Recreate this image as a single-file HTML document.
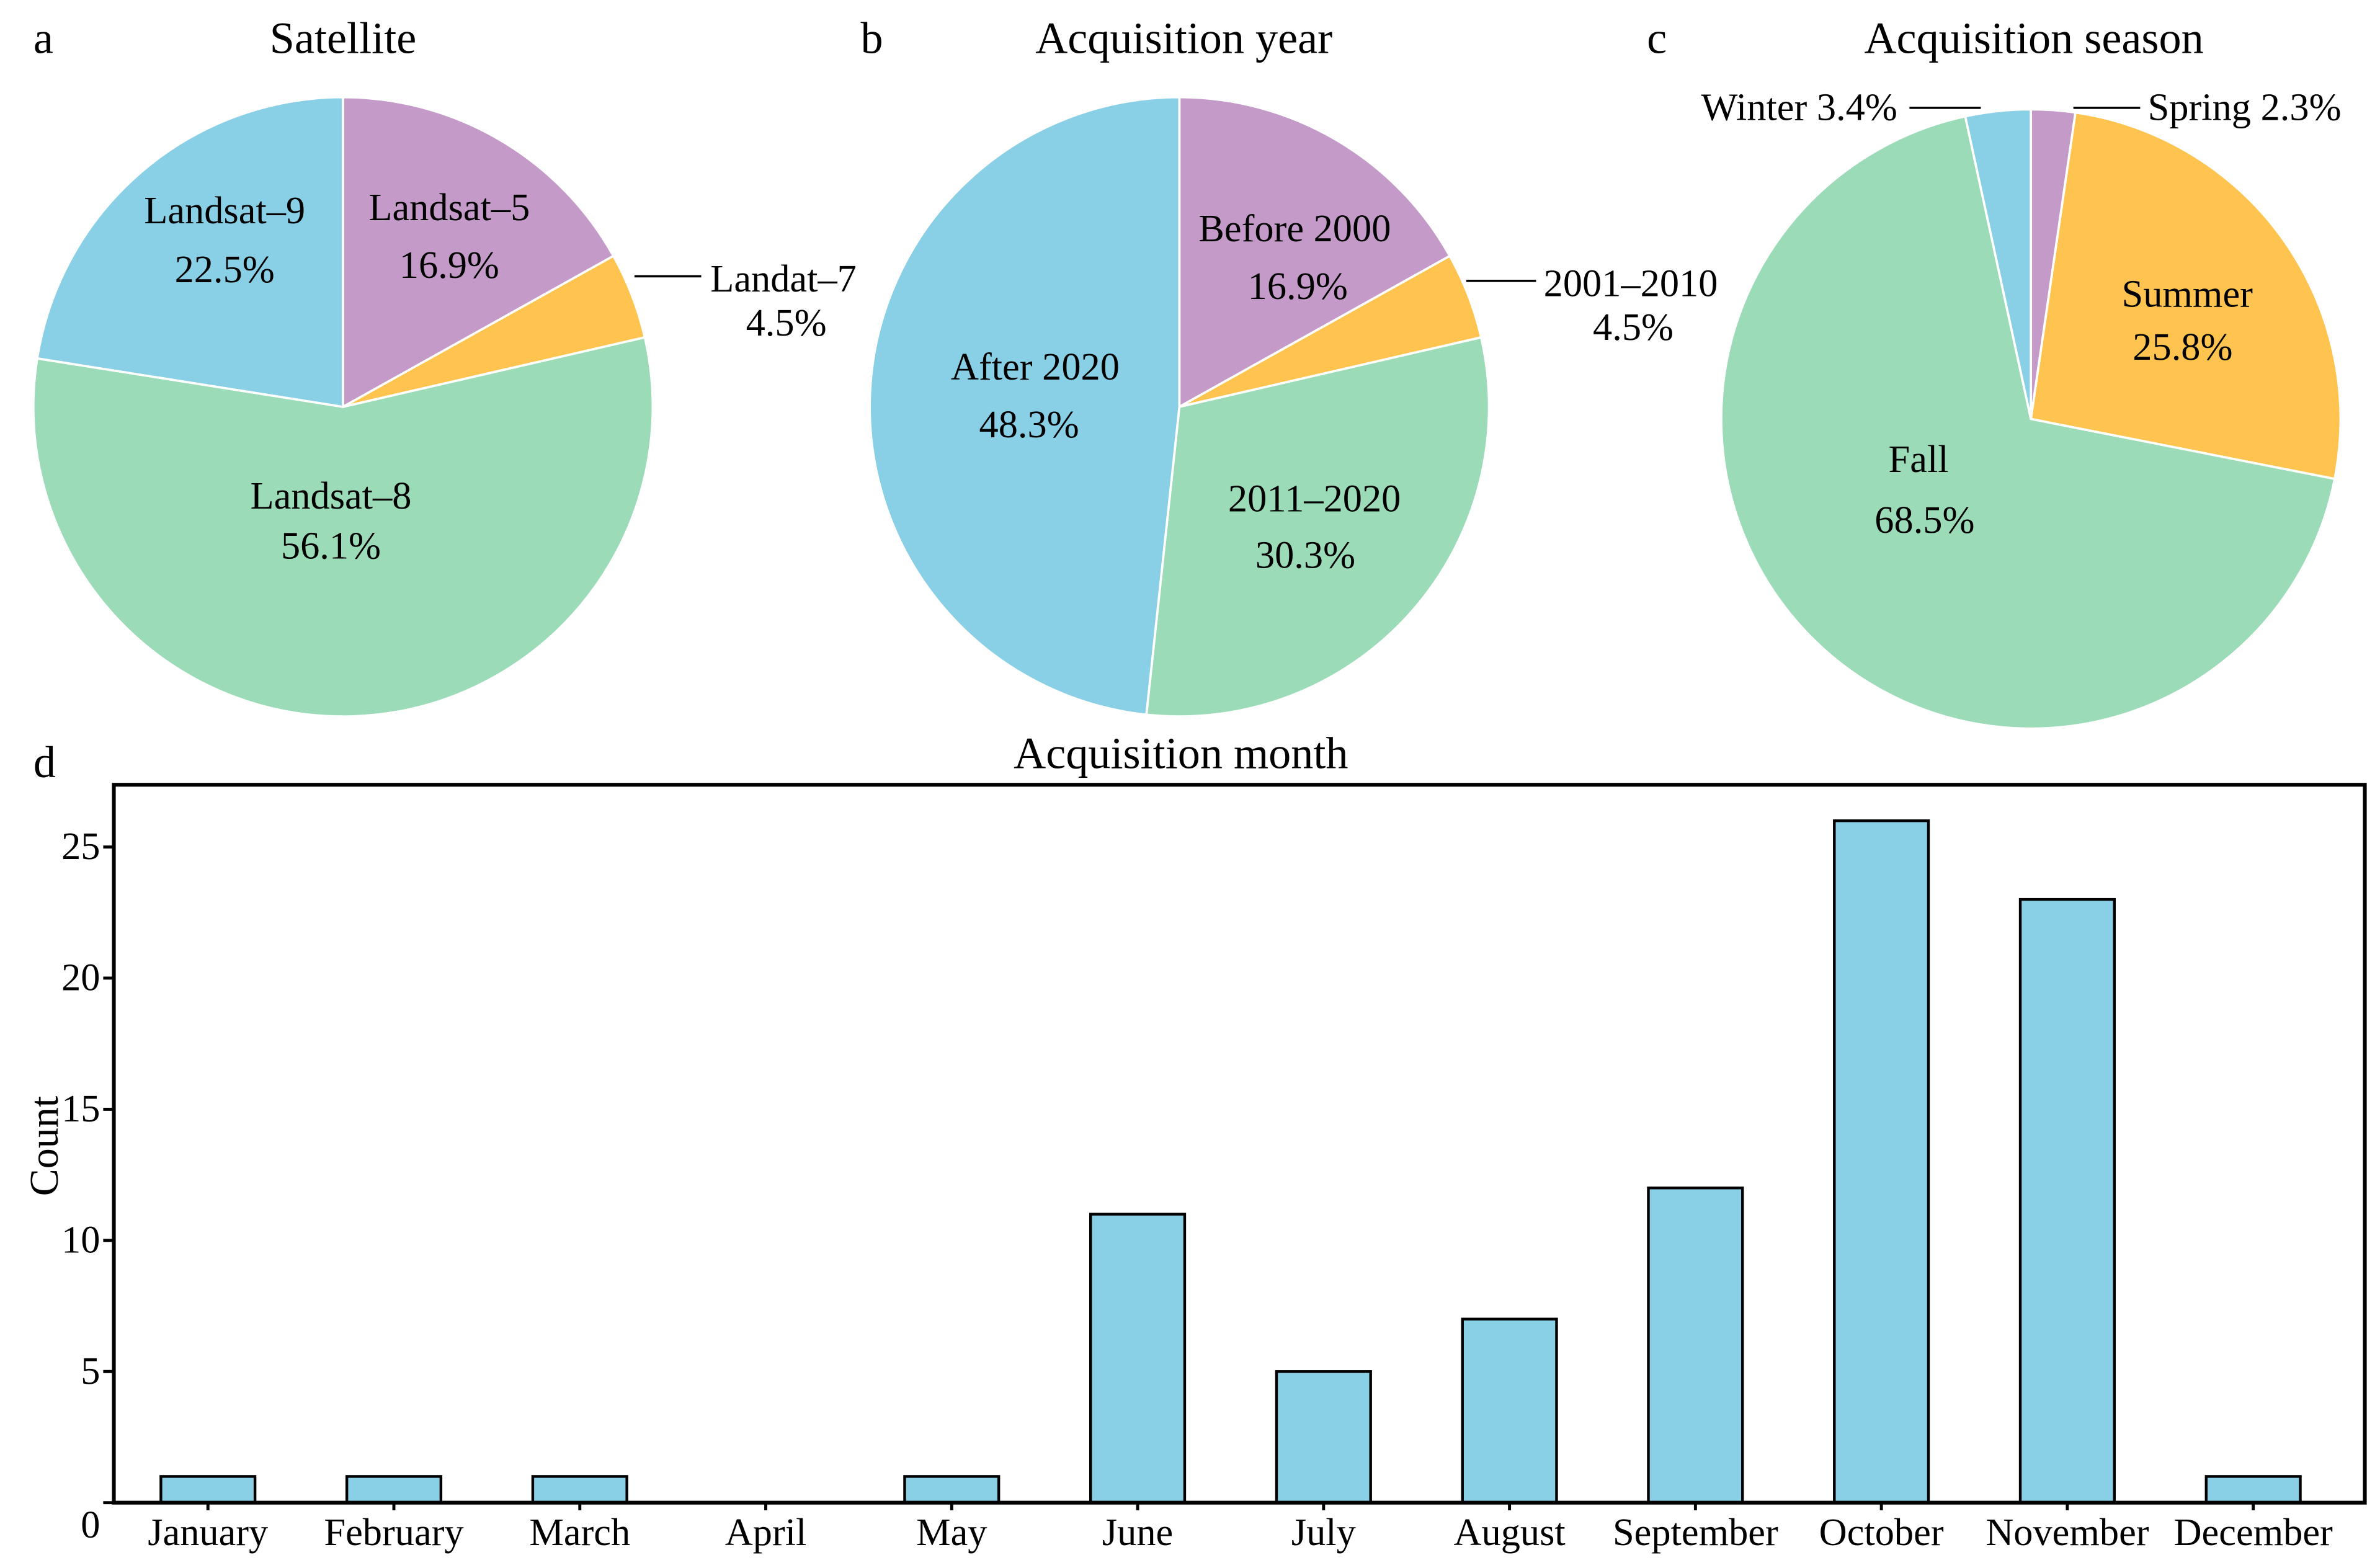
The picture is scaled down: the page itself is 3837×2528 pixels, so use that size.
<!DOCTYPE html>
<html><head><meta charset="utf-8"><style>
html,body{margin:0;padding:0;background:#fff;}
svg{display:block;font-family:"Liberation Serif",serif;}
</style></head><body>
<svg id="fig" width="3837" height="2528" viewBox="0 0 1568 1033" xmlns="http://www.w3.org/2000/svg">
<rect width="1568" height="1033" fill="#fff"/>
<g font-size="29.5" fill="#000">
<text x="22" y="35">a</text>
<text x="567" y="35">b</text>
<text x="1085" y="35">c</text>
<text x="22" y="512">d</text>
<text x="226" y="35" text-anchor="middle">Satellite</text>
<text x="780" y="35" text-anchor="middle">Acquisition year</text>
<text x="1340" y="35" text-anchor="middle">Acquisition season</text>
<text x="778" y="506" text-anchor="middle">Acquisition month</text>
</g>
<g id="pies"></g>
<g id="bars"></g>
<g font-size="25.5" fill="#000">
<line x1="418" y1="182" x2="462" y2="182" stroke="#000" stroke-width="1.5"/>
<text x="468" y="192">Landat–7</text>
<text x="518" y="221" text-anchor="middle">4.5%</text>
<line x1="966" y1="185" x2="1012" y2="185" stroke="#000" stroke-width="1.5"/>
<text x="1017" y="195">2001–2010</text>
<text x="1076" y="224" text-anchor="middle">4.5%</text>
<line x1="1258" y1="71" x2="1305" y2="71" stroke="#000" stroke-width="1.5"/>
<text x="1250" y="79" text-anchor="end">Winter 3.4%</text>
<line x1="1366" y1="71" x2="1410" y2="71" stroke="#000" stroke-width="1.5"/>
<text x="1415" y="79">Spring 2.3%</text>
<g text-anchor="middle">
<text x="148" y="147">Landsat–9</text><text x="148" y="186">22.5%</text>
<text x="296" y="145">Landsat–5</text><text x="296" y="183">16.9%</text>
<text x="218" y="335">Landsat–8</text><text x="218" y="368">56.1%</text>
<text x="853" y="159">Before 2000</text><text x="855" y="197">16.9%</text>
<text x="682" y="250">After 2020</text><text x="678" y="288">48.3%</text>
<text x="866" y="337">2011–2020</text><text x="860" y="374">30.3%</text>
<text x="1441" y="202">Summer</text><text x="1438" y="237">25.8%</text>
<text x="1264" y="311">Fall</text><text x="1268" y="351">68.5%</text>
</g>
</g>
</svg>
<script>
const satCats=["Landsat-5","Landsat-7","Landsat-8","Landsat-9"];
const satVals=[16.9,4.5,56.1,22.5];
const yearCats=["Before 2000","2001-2010","2011-2020","After 2020"];
const yearVals=[16.9,4.5,30.3,48.3];
const seasonCats=["Spring","Summer","Fall","Winter"];
const seasonVals=[2.3,25.8,68.5,3.4];
const months=["January","February","March","April","May","June","July","August","September","October","November","December"];
const counts=[1,1,1,0,1,11,5,7,12,26,23,1];
const yTicks=[0,5,10,15,20,25];
const NS="http://www.w3.org/2000/svg";
function mk(t,a,p){const e=document.createElementNS(NS,t);for(const k in a)e.setAttribute(k,a[k]);p.appendChild(e);return e;}
function pie(cx,cy,r,vals,cols,name){
  const g=document.getElementById('pies');const tot=vals.reduce((a,b)=>a+b,0);let a0=0;
  vals.forEach((v,i)=>{const a1=a0+v/tot*2*Math.PI;
    const x0=cx+r*Math.sin(a0),y0=cy-r*Math.cos(a0),x1=cx+r*Math.sin(a1),y1=cy-r*Math.cos(a1);
    const p=mk('path',{d:`M${cx},${cy}L${x0},${y0}A${r},${r} 0 ${a1-a0>Math.PI?1:0} 1 ${x1},${y1}Z`,fill:cols[i],stroke:'#fff','stroke-width':1.5},g);
    
    
    a0=a1;});
}
pie(226,268,204,satVals,["#C49BC8","#FFC44F","#9CDBB8","#89CFE5"],'satellite');
pie(777,268,204,yearVals,["#C49BC8","#FFC44F","#9CDBB8","#89CFE5"],'year');
pie(1338,276,204,seasonVals,["#C49BC8","#FFC44F","#9CDBB8","#89CFE5"],'season');
const g=document.getElementById('bars');
const L=75,R=1558,T=517,B=990;
const y=v=>B-v*17.28;
const x=i=>137+i*122.5;
months.forEach((m,i)=>{
  if(counts[i]>0){const b=mk('rect',{x:x(i)-31,y:y(counts[i]),width:62,height:B-y(counts[i]),fill:'#89CFE5',stroke:'#000','stroke-width':1.8},g);
  
  }
  mk('line',{x1:x(i),y1:B,x2:x(i),y2:B+5,stroke:'#000','stroke-width':2},g);
  const t=mk('text',{x:x(i),y:1018,'font-size':25.5,'text-anchor':'middle'},g);t.textContent=m;
  
  
});
yTicks.forEach(v=>{
  if(v>0) mk('line',{x1:L-7,y1:y(v),x2:L,y2:y(v),stroke:'#000','stroke-width':2},g);
  const t=mk('text',{x:66,y:v===0?1013:y(v)+8,'font-size':25.5,'text-anchor':'end'},g);t.textContent=v;
  
  
});
mk('line',{x1:L-7,y1:B,x2:L,y2:B,stroke:'#000','stroke-width':2},g);
const fr=mk('rect',{x:L,y:T,width:R-L,height:B-T,fill:'none',stroke:'#000','stroke-width':2.5},g);


const yl=mk('text',{x:0,y:0,'font-size':27,'text-anchor':'middle',transform:'translate(38,755) rotate(-90)'},g);yl.textContent='Count';


</script>
</body></html>
